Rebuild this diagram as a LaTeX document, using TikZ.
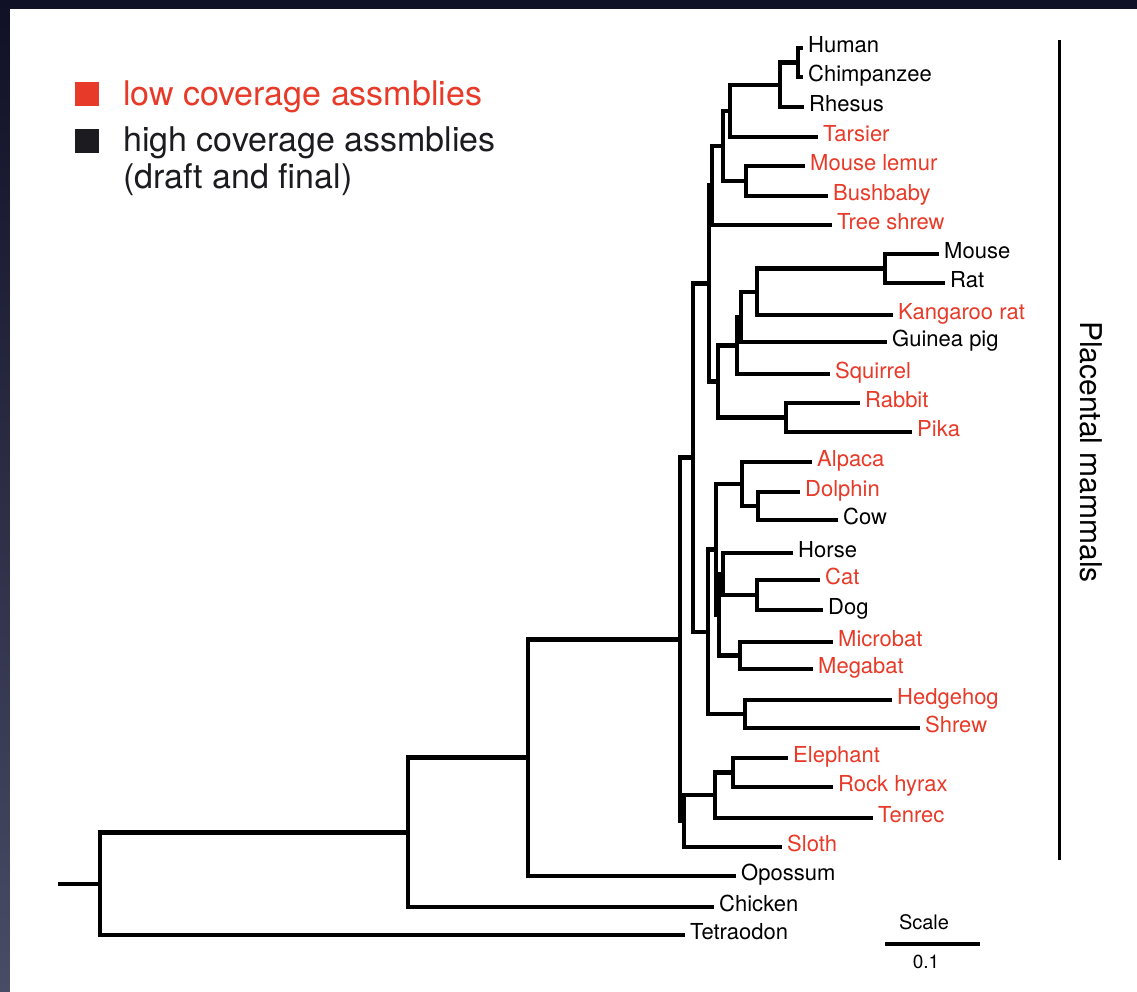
\documentclass[tikz,border=0pt]{standalone}
\usepackage{fontspec}
\setmainfont{TeX Gyre Heros}
\usetikzlibrary{calc, positioning}
\definecolor{lowred}{RGB}{232,58,40}
\definecolor{highblack}{RGB}{28,28,32}
\definecolor{slide}{RGB}{16,16,38}
\definecolor{slideedge}{RGB}{72,76,102}

\begin{document}
\begin{tikzpicture}[x=1pt, y=-1pt, >=latex]
				\tikzstyle{branch} = [line width=4.4pt, to path={|- (\tikztotarget)}]
				\tikzstyle{taxon} = [anchor=west, inner sep=5pt, text height=0.9em, text depth=0pt, font=\fontsize{22}{24}\selectfont]
				\tikzstyle{lowtaxon} = [taxon, text=lowred]
				\tikzstyle{legend} = [anchor=base west, inner sep=0pt, align=left, font=\fontsize{34}{37}\selectfont]
				
				\useasboundingbox (0, 0) rectangle (1137, 992);
				\fill[slide] (0, 0) rectangle (1137, 992);
				\shade[top color=slide, bottom color=slideedge] (0, 0) rectangle (10, 992);
				\fill[white] (10, 9) rectangle (1137, 992);
				
				% legend
				\fill[lowred] (75, 82) rectangle (99, 106);
				\fill[highblack] (75, 129) rectangle (99, 153);
				\node[legend, text=lowred] 	at (123, 106) 	(legLow) 	{low coverage assmblies};
				\node[legend, text=highblack] at (123, 189) (legHigh) 	{high coverage assmblies\\(draft and final)};
				
				% leaves
				\node[taxon] 		at (803, 48) 	(human) 	{Human};
				\node[taxon] 		at (803, 77) 	(chimp) 	{Chimpanzee};
				\node[taxon] 		at (804, 107) 	(rhesus) 	{Rhesus};
				\node[lowtaxon] 	at (818, 137) 	(tarsier) 	{Tarsier};
				\node[lowtaxon] 	at (805, 166) 	(lemur) 	{Mouse lemur};
				\node[lowtaxon] 	at (828, 196) 	(bushbaby) 	{Bushbaby};
				\node[lowtaxon] 	at (832, 225) 	(treeshrew) {Tree shrew};
				\node[taxon] 		at (939, 254) 	(mouse) 	{Mouse};
				\node[taxon] 		at (945, 283) 	(rat) 		{Rat};
				\node[lowtaxon] 	at (893, 315) 	(krat) 		{Kangaroo rat};
				\node[taxon] 		at (887, 342) 	(guineapig) {Guinea pig};
				\node[lowtaxon] 	at (830, 374) 	(squirrel) 	{Squirrel};
				\node[lowtaxon] 	at (860, 403) 	(rabbit) 	{Rabbit};
				\node[lowtaxon] 	at (912, 432) 	(pika) 		{Pika};
				\node[lowtaxon] 	at (812, 462) 	(alpaca) 	{Alpaca};
				\node[lowtaxon] 	at (800, 492) 	(dolphin) 	{Dolphin};
				\node[taxon] 		at (838, 520) 	(cow) 		{Cow};
				\node[taxon] 		at (793, 553) 	(horse) 	{Horse};
				\node[lowtaxon] 	at (820, 580) 	(cat) 		{Cat};
				\node[taxon] 		at (823, 610) 	(dog) 		{Dog};
				\node[lowtaxon] 	at (833, 642) 	(microbat) 	{Microbat};
				\node[lowtaxon] 	at (813, 669) 	(megabat) 	{Megabat};
				\node[lowtaxon] 	at (892, 700) 	(hedgehog) 	{Hedgehog};
				\node[lowtaxon] 	at (920, 728) 	(shrew) 	{Shrew};
				\node[lowtaxon] 	at (788, 758) 	(elephant) 	{Elephant};
				\node[lowtaxon] 	at (833, 787) 	(hyrax) 	{Rock hyrax};
				\node[lowtaxon] 	at (873, 818) 	(tenrec) 	{Tenrec};
				\node[lowtaxon] 	at (782, 847) 	(sloth) 	{Sloth};
				\node[taxon] 		at (736, 876) 	(opossum) 	{Opossum};
				\node[taxon] 		at (714, 907) 	(chicken) 	{Chicken};
				\node[taxon] 		at (685, 935) 	(tetraodon) {Tetraodon};
				
				% inner nodes
				\coordinate (hc) 		at (798, 62.5);
				\coordinate (hcr) 		at (780, 85);
				\coordinate (hcrt) 		at (730, 111);
				\coordinate (strep) 	at (746, 181);
				\coordinate (primates) 	at (723, 146);
				\coordinate (euarch) 	at (712, 185.5);
				\coordinate (murid) 	at (885, 268.5);
				\coordinate (myo) 		at (757, 292);
				\coordinate (rodA) 		at (741, 317);
				\coordinate (rodents) 	at (737, 345.5);
				\coordinate (lago) 		at (786, 417.5);
				\coordinate (glires) 	at (718, 381.5);
				\coordinate (euglires) 	at (709, 283.5);
				\coordinate (dolcow) 	at (758, 506);
				\coordinate (cetart) 	at (742, 484);
				\coordinate (carniv) 	at (757, 595);
				\coordinate (horsecarn) at (723, 574);
				\coordinate (bats) 		at (740, 655.5);
				\coordinate (pegaso) 	at (719, 614.8);
				\coordinate (scrot) 	at (716, 549.4);
				\coordinate (eulip) 	at (745, 714);
				\coordinate (laura) 	at (708, 631.7);
				\coordinate (boreo) 	at (693, 457.6);
				\coordinate (eleph) 	at (733, 772.5);
				\coordinate (afro) 		at (715, 795);
				\coordinate (atlanto) 	at (684, 821);
				\coordinate (placental) at (680, 639.3);
				\coordinate (theria) 	at (528, 757.6);
				\coordinate (amniota) 	at (408, 832.3);
				\coordinate (root) 		at (100, 883.7);
				\coordinate (stub) 		at (58, 883.7);
				
				\path[branch]
				(hc)		edge	(human)		(hc)		edge	(chimp)
				(hcr)		edge	(hc)		(hcr)		edge	(rhesus)
				(hcrt)		edge	(hcr)		(hcrt)		edge	(tarsier)
				(strep)		edge	(lemur)		(strep)		edge	(bushbaby)
				(primates)	edge	(hcrt)		(primates)	edge	(strep)
				(euarch)	edge	(primates)	(euarch)	edge	(treeshrew)
				(murid)		edge	(mouse)		(murid)		edge	(rat)
				(myo)		edge	(murid)		(myo)		edge	(krat)
				(rodA)		edge	(myo)		(rodA)		edge	(guineapig)
				(rodents)	edge	(rodA)		(rodents)	edge	(squirrel)
				(lago)		edge	(rabbit)	(lago)		edge	(pika)
				(glires)	edge	(rodents)	(glires)	edge	(lago)
				(euglires)	edge	(euarch)	(euglires)	edge	(glires)
				(dolcow)	edge	(dolphin)	(dolcow)	edge	(cow)
				(cetart)	edge	(alpaca)	(cetart)	edge	(dolcow)
				(carniv)	edge	(cat)		(carniv)	edge	(dog)
				(horsecarn)	edge	(horse)		(horsecarn)	edge	(carniv)
				(bats)		edge	(microbat)	(bats)		edge	(megabat)
				(pegaso)	edge	(horsecarn)	(pegaso)	edge	(bats)
				(scrot)		edge	(cetart)	(scrot)		edge	(pegaso)
				(eulip)		edge	(hedgehog)	(eulip)		edge	(shrew)
				(laura)		edge	(scrot)		(laura)		edge	(eulip)
				(boreo)		edge	(euglires)	(boreo)		edge	(laura)
				(eleph)		edge	(elephant)	(eleph)		edge	(hyrax)
				(afro)		edge	(eleph)		(afro)		edge	(tenrec)
				(atlanto)	edge	(afro)		(atlanto)	edge	(sloth)
				(placental)	edge	(boreo)		(placental)	edge	(atlanto)
				(theria)	edge	(placental)	(theria)	edge	(opossum)
				(amniota)	edge	(theria)	(amniota)	edge	(chicken)
				(root)		edge	(amniota)	(root)		edge	(tetraodon);
				\draw[line width=4.4pt] (stub) -- (root);
				
				% placental bracket
				\coordinate (barTop) 	at (1059, 40);
				\coordinate (barBot) 	at (1059, 860);
				\draw[line width=3pt] (barTop) -- (barBot);
				\node[rotate=-90, font=\fontsize{30}{32}\selectfont] at (1091, 452) (placLabel) {Placental mammals};
				
				% scale bar
				\coordinate (scaleL) 	at (885, 944);
				\coordinate (scaleR) 	at (980, 944);
				\draw[line width=4pt] (scaleL) -- (scaleR);
				\node[font=\fontsize{20}{22}\selectfont] at (924, 922) (scaleTxt) {Scale};
				\node[font=\fontsize{19}{21}\selectfont] at (926, 962) (scaleVal) {0.1};
\end{tikzpicture}
\end{document}
